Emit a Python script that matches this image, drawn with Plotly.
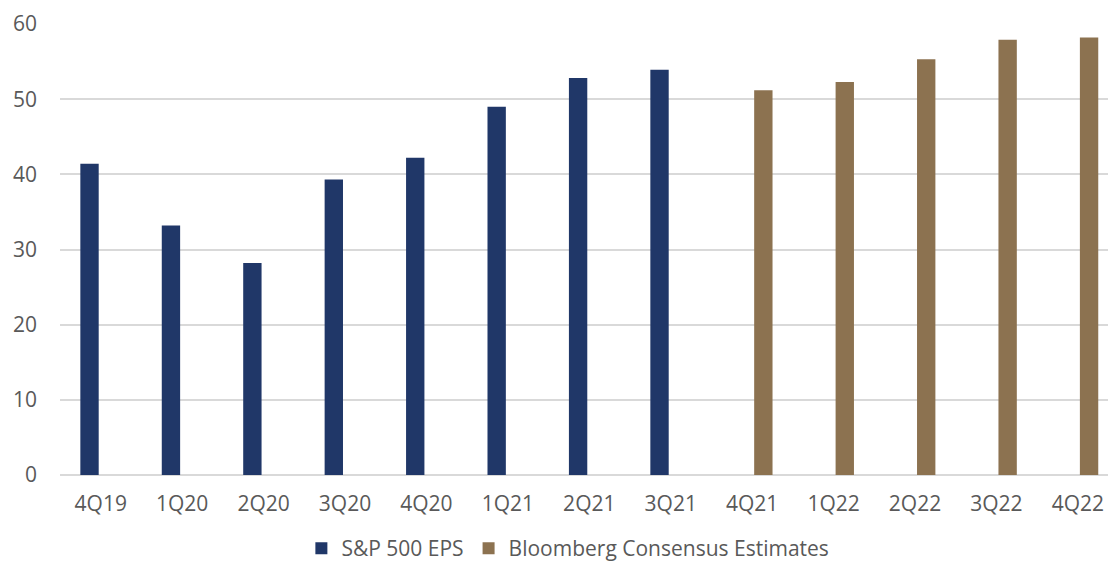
import plotly.graph_objects as go

categories = ["4Q19", "1Q20", "2Q20", "3Q20", "4Q20", "1Q21", "2Q21", "3Q21",
              "4Q21", "1Q22", "2Q22", "3Q22", "4Q22"]
sp500_eps = [41.4, 33.2, 28.2, 39.3, 42.2, 49.0, 52.8, 53.9,
             None, None, None, None, None]
bloomberg_est = [None, None, None, None, None, None, None, None,
                 51.2, 52.3, 55.3, 57.9, 58.2]
y_ticks = [0, 10, 20, 30, 40, 50, 60]

NAVY = "#203768"
BROWN = "#8C7250"
TXT = "#595959"
FONT = "Open Sans"

fig = go.Figure()
fig.add_trace(go.Bar(x=categories, y=sp500_eps, name="S&P 500 EPS",
                     marker=dict(color=NAVY, line=dict(width=0))))
fig.add_trace(go.Bar(x=categories, y=bloomberg_est, name="Bloomberg Consensus Estimates",
                     marker=dict(color=BROWN, line=dict(width=0))))

fig.update_layout(
    width=1108, height=569,
    margin=dict(l=60, r=0, t=24, b=94, autoexpand=False),
    paper_bgcolor="white", plot_bgcolor="white",
    barmode="group", bargap=0.45, bargroupgap=0.18,
    font=dict(family=FONT, size=21, color=TXT),
    showlegend=True,
    legend=dict(orientation="h", xref="container", yref="container",
                x=0.272, xanchor="left", y=0.0, yanchor="bottom",
                font=dict(size=21, color=TXT), itemwidth=30,
                traceorder="normal"),
    xaxis=dict(type="category", range=[-0.5, 12.37], showgrid=False,
               showline=False, ticks="", ticklabelstandoff=14,
               tickfont=dict(size=21, color=TXT)),
    yaxis=dict(range=[0, 60], tickvals=y_ticks, showgrid=True, gridcolor="#d9d9d9",
               gridwidth=1.5, zeroline=True, zerolinecolor="#d9d9d9", zerolinewidth=1.5,
               showline=False, ticks="", ticklabelstandoff=22,
               tickfont=dict(size=21, color=TXT)),
)

fig.write_html("out.html")
